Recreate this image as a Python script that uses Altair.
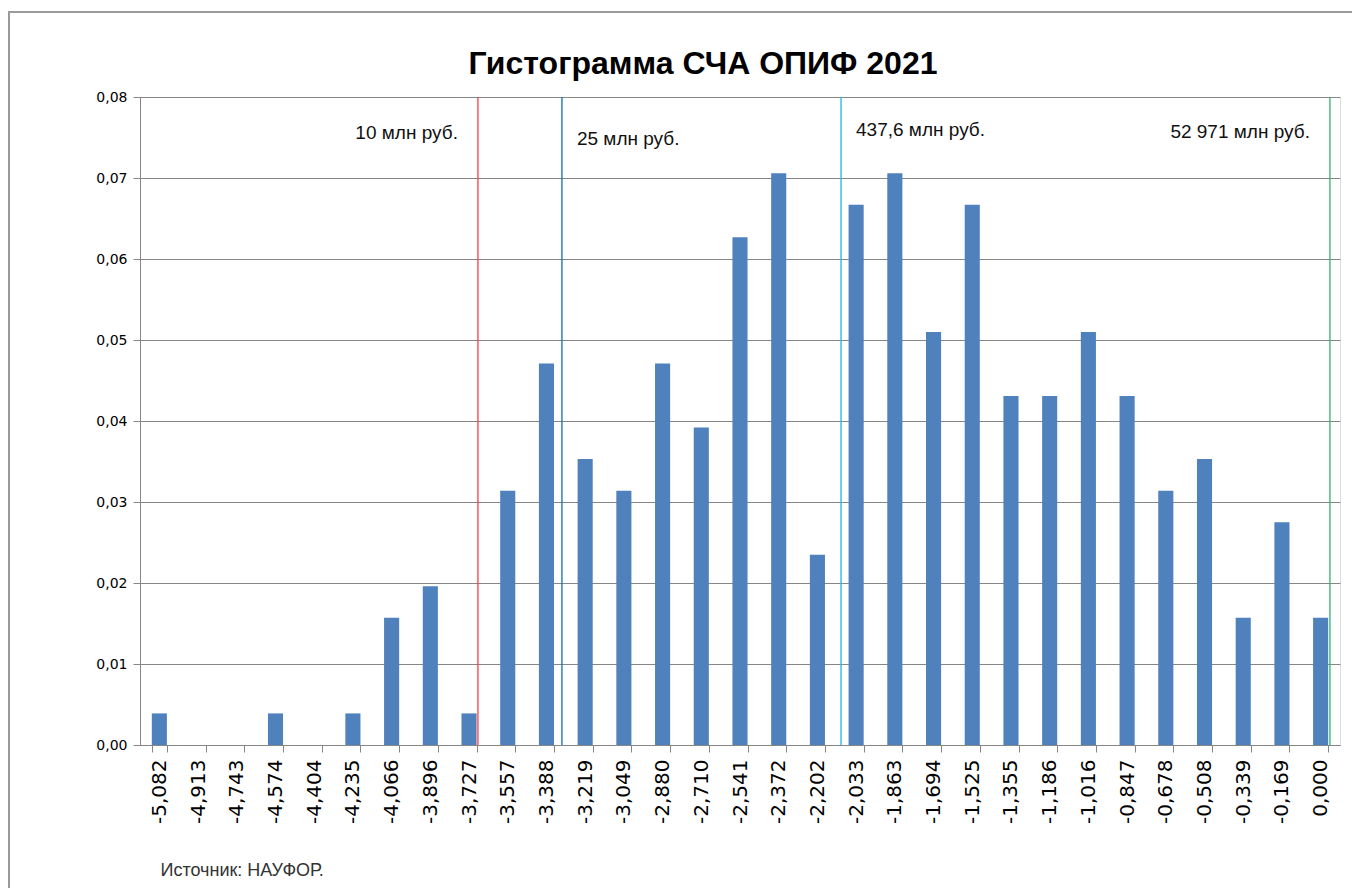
import altair as alt
import pandas as pd

# ---- data ----
bins = ["-5,082", "-4,913", "-4,743", "-4,574", "-4,404", "-4,235", "-4,066", "-3,896",
        "-3,727", "-3,557", "-3,388", "-3,219", "-3,049", "-2,880", "-2,710", "-2,541",
        "-2,372", "-2,202", "-2,033", "-1,863", "-1,694", "-1,525", "-1,355", "-1,186",
        "-1,016", "-0,847", "-0,678", "-0,508", "-0,339", "-0,169", "0,000"]
freq = [0.0039, 0.0, 0.0, 0.0039, 0.0, 0.0039, 0.0157, 0.0196,
        0.0039, 0.0314, 0.0471, 0.0353, 0.0314, 0.0471, 0.0392, 0.0627,
        0.0706, 0.0235, 0.0667, 0.0706, 0.0510, 0.0667, 0.0431, 0.0431,
        0.0510, 0.0431, 0.0314, 0.0353, 0.0157, 0.0275, 0.0157]

marker_labels = ["10 млн руб.", "25 млн руб.", "437,6 млн руб.", "52 971 млн руб."]
marker_pos = [8.73, 10.90, 18.11, 30.74]          # position in bin widths from the left edge
marker_label_y = [0.0756, 0.0748, 0.0759, 0.0757]
marker_side = ["left", "right", "right", "left"]
marker_colors = ["#FF3B3B", "#0B6FB8", "#1EB4E8", "#2DB36A"]

n_bins = len(bins)

bars_df = pd.DataFrame({"bin": bins, "freq": freq})
marks_df = pd.DataFrame({"label": marker_labels, "pos": marker_pos,
                         "ly": marker_label_y, "side": marker_side})

FONT = "DejaVu Sans"
GRID = "#868686"

bars = alt.Chart(bars_df).mark_bar(color="#4F81BD").encode(
    x=alt.X("bin:N", sort=bins,
            scale=alt.Scale(paddingInner=0.61, paddingOuter=0.305),
            axis=alt.Axis(labelAngle=270, labelFont=FONT, labelFontSize=20,
                          labelColor="#000000", labelPadding=7,
                          tickBand="extent", tickSize=7, tickColor=GRID,
                          domainColor=GRID, grid=False,
                          title="Источник: НАУФОР.", titleFont="Liberation Sans",
                          titleFontSize=18, titleFontWeight="normal", titleColor="#333333",
                          titleAnchor="start", titleAlign="left", titleBaseline="alphabetic",
                          titleX=20, titleY=130)),
    y=alt.Y("freq:Q", scale=alt.Scale(domain=[0, 0.08], nice=False),
            axis=alt.Axis(values=[0, 0.01, 0.02, 0.03, 0.04, 0.05, 0.06, 0.07, 0.08],
                          labelExpr="replace(format(datum.value, '.2f'), '.', ',')",
                          labelFont=FONT, labelFontSize=14, labelColor="#000000",
                          labelPadding=6, tickSize=7, tickColor=GRID,
                          domainColor=GRID, gridColor=GRID, grid=True, title=None)),
)

xq = alt.X("pos:Q", scale=alt.Scale(domain=[0, n_bins], nice=False, zero=False), axis=None)
color = alt.Color("label:N", scale=alt.Scale(domain=marker_labels, range=marker_colors), legend=None)

rules = alt.Chart(marks_df).mark_rule(strokeWidth=1.3).encode(
    x=xq, y=alt.datum(0.08), y2=alt.datum(0), color=color
)

text_left = alt.Chart(marks_df).transform_filter(alt.datum.side == "left").mark_text(
    align="right", baseline="middle", dx=-20, font="Liberation Sans", fontSize=19, color="#111111"
).encode(x=xq, y=alt.Y("ly:Q"), text="label:N")

text_right = alt.Chart(marks_df).transform_filter(alt.datum.side == "right").mark_text(
    align="left", baseline="middle", dx=15, font="Liberation Sans", fontSize=19, color="#111111"
).encode(x=xq, y=alt.Y("ly:Q"), text="label:N")

# decorative outer chart frame (as in the spreadsheet export)
frame = alt.Chart(pd.DataFrame({"f": [0]})).mark_rect(
    filled=False, stroke="#9A9A9A", strokeWidth=2, clip=False
).encode(x=alt.value(-131), x2=alt.value(1400), y=alt.value(-85), y2=alt.value(1000))

overlay = alt.layer(rules, text_left, text_right)

chart = alt.layer(frame, bars, overlay).resolve_scale(x="independent").properties(
    width=1200, height=648,
    autosize=alt.AutoSizeParams(type="none"),
    padding={"left": 132, "top": 89, "right": 12, "bottom": 143},
    title=alt.TitleParams("Гистограмма СЧА ОПИФ 2021", font="Liberation Sans",
                          fontSize=32, fontWeight="bold", color="#000000",
                          anchor="middle", dx=-37, dy=90, offset=20),
).configure_view(strokeWidth=0).configure(background="white")

chart.save("out.html", embed_options={"renderer": "svg", "actions": False})
